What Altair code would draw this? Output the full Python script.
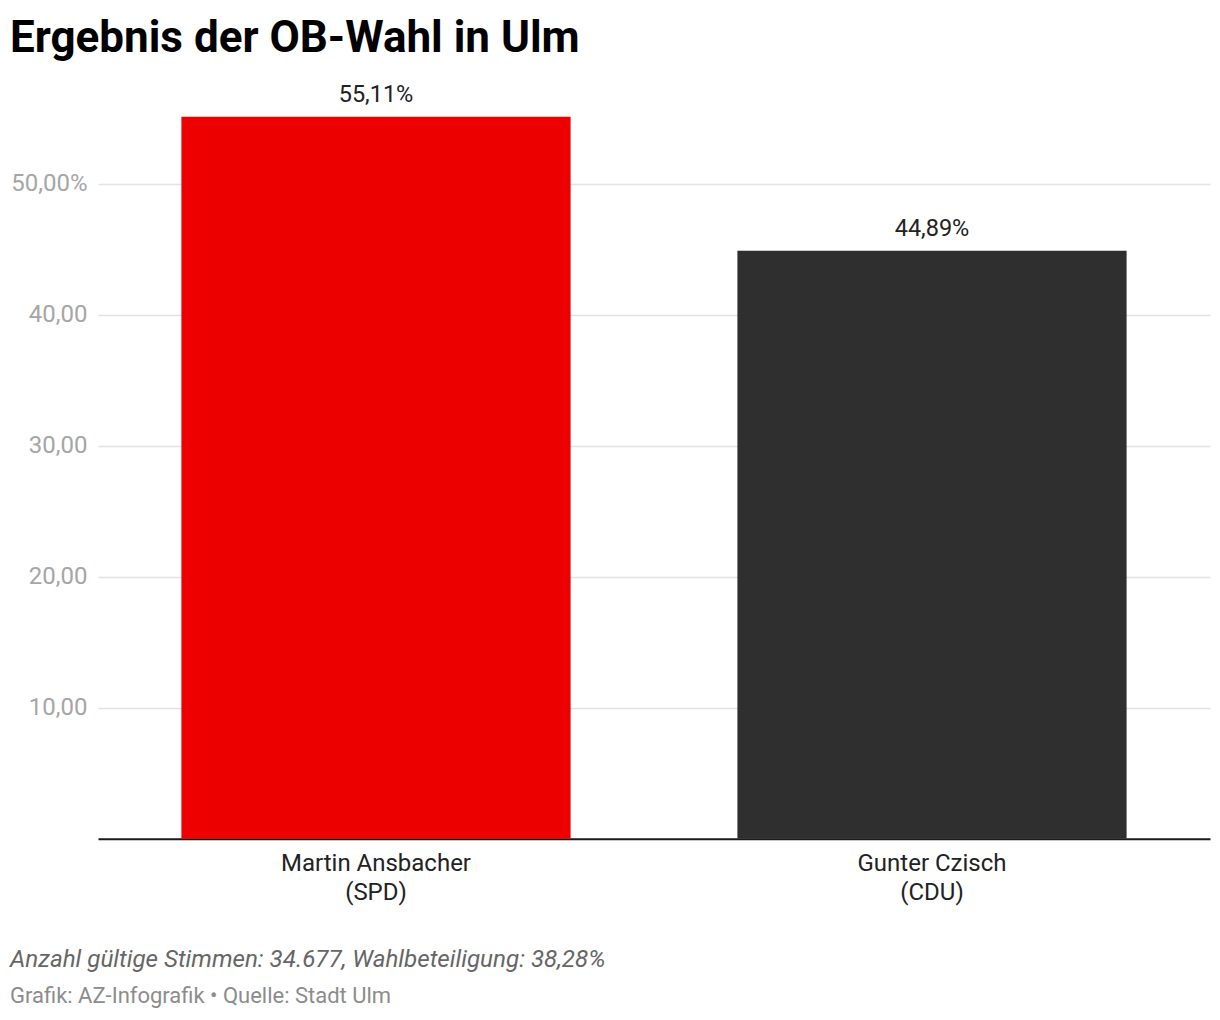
import altair as alt
import pandas as pd

candidates = ["Martin Ansbacher|(SPD)", "Gunter Czisch|(CDU)"]
values = [55.11, 44.89]
value_labels = ["55,11%", "44,89%"]
colors = ["#ec0000", "#2f2f2f"]
y_ticks = [10, 20, 30, 40, 50]
footer_note = ["Anzahl gültige Stimmen: 34.677, Wahlbeteiligung: 38,28%"]
footer_source = ["Grafik: AZ-Infografik • Quelle: Stadt Ulm"]
title_text = "Ergebnis der OB-Wahl in Ulm"

FONT = "Roboto"

df = pd.DataFrame({"cand": candidates, "val": values, "lab": value_labels, "col": colors})

x_enc = alt.X(
    "cand:N",
    sort=candidates,
    scale=alt.Scale(paddingInner=0.3, paddingOuter=0.15),
    axis=alt.Axis(
        title=None,
        labelAngle=0,
        labelExpr="split(datum.label, '|')",
        labelFontSize=24,
        labelColor="#222222",
        labelFont=FONT,
        labelPadding=13,
        labelLineHeight=29,
        labelLimit=500,
        ticks=False,
        domainColor="#1a1a1a",
        domainWidth=2,
    ),
)

y_enc = alt.Y(
    "val:Q",
    scale=alt.Scale(domain=[0, 58], nice=False),
    axis=alt.Axis(
        title=None,
        values=y_ticks,
        labelExpr="datum.value == 50 ? '50,00%' : replace(format(datum.value, '.2f'), '.', ',')",
        labelFontSize=24,
        labelColor="#a6a6a6",
        labelFont=FONT,
        labelPadding=11,
        ticks=False,
        domain=False,
        gridColor="#e3e3e3",
        gridWidth=1.5,
    ),
)

bars = alt.Chart(df).mark_bar().encode(
    x=x_enc,
    y=y_enc,
    color=alt.Color("col:N", scale=None),
)

labels = alt.Chart(df).mark_text(
    baseline="alphabetic", dy=-15, fontSize=23.5, font=FONT, color="#222222"
).encode(
    x=alt.X("cand:N", sort=candidates),
    y="val:Q",
    text="lab:N",
)

note = alt.Chart(pd.DataFrame({"t": footer_note})).mark_text(
    align="left", baseline="alphabetic", fontSize=24.2, font=FONT, fontStyle="italic", color="#666666"
).encode(text="t:N", x=alt.value(-88), y=alt.value(888))

source = alt.Chart(pd.DataFrame({"t": footer_source})).mark_text(
    align="left", baseline="alphabetic", fontSize=22, font=FONT, color="#8c8c8c"
).encode(text="t:N", x=alt.value(-88), y=alt.value(924))

chart = alt.layer(bars, labels, note, source).properties(
    width=1112,
    height=759.8,
    title=alt.TitleParams(
        title_text,
        anchor="start",
        frame="group",
        font=FONT,
        fontSize=44,
        fontWeight="bold",
        color="#000000",
        dx=-88,
        offset=18,
    ),
    autosize=alt.AutoSizeParams(type="none"),
    padding={"left": 90, "top": 71, "right": 2, "bottom": 173},
).configure(background="white").configure_view(strokeWidth=0, stroke=None)

chart.save("out.html", embed_options={"renderer": "svg", "actions": False})
